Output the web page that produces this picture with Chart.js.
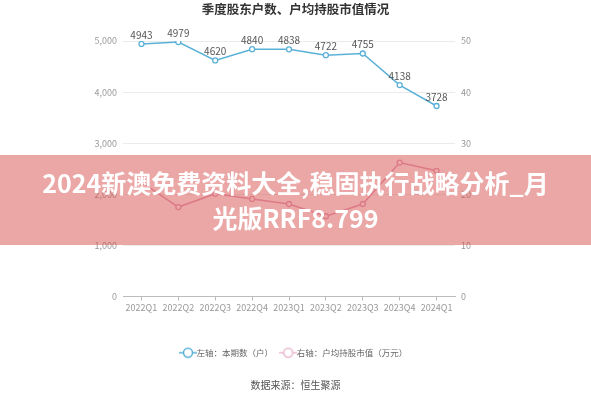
<!DOCTYPE html>
<html>
<head>
<meta charset="utf-8">
<script src="https://cdn.jsdelivr.net/npm/chart.js@4"></script>
<style>
  html, body { margin: 0; padding: 0; background: #fff; }
  #wrap { position: relative; width: 591px; height: 400px; }
  #banner {
    position: absolute; left: 0; top: 155px; width: 591px; height: 90px;
    background: rgba(214, 80, 76, 0.5);
    color: #fff; font-family: "Noto Sans CJK SC", sans-serif; font-weight: bold;
    font-size: 25px; line-height: 35px; text-align: center;
    box-sizing: border-box; padding-top: 10px;
  }
</style>
</head>
<body>
<div id="wrap">
  <canvas id="myChart" width="591" height="400"></canvas>
  <div id="banner">2024新澳免费资料大全,稳固执行战略分析_月<br>光版RRF8.799</div>
</div>
<script>
let quarters = ['2022Q1', '2022Q2', '2022Q3', '2022Q4', '2023Q1', '2023Q2', '2023Q3', '2023Q4', '2024Q1']
let holders = [4943, 4979, 4620, 4840, 4838, 4722, 4755, 4138, 3728]
let avgValue = [22.4, 17.5, 20.1, 19.1, 18.1, 15.7, 18.1, 26.2, 24.6]

let font = '"Noto Sans CJK SC", "Noto Sans", sans-serif'
let blue = '#5ab1d7'
let pink = '#e3a3bf'

// little line + hollow circle used as legend marker
function marker(color) {
    let c = document.createElement('canvas')
    c.width = 18; c.height = 12
    let g = c.getContext('2d')
    g.strokeStyle = color
    g.lineWidth = 1.5
    g.beginPath(); g.moveTo(0, 6); g.lineTo(18, 6); g.stroke()
    g.fillStyle = '#fff'
    g.beginPath(); g.arc(9, 6, 4.5, 0, Math.PI * 2); g.fill(); g.stroke()
    return c
}

// value labels above the first series
let pointLabels = {
    id: 'pointLabels',
    afterDatasetsDraw(chart) {
        let ctx = chart.ctx
        let meta = chart.getDatasetMeta(0)
        ctx.save()
        ctx.font = '10px ' + font
        ctx.fillStyle = '#555'
        ctx.textAlign = 'center'
        ctx.textBaseline = 'bottom'
        meta.data.forEach((pt, i) => {
            ctx.fillText(String(holders[i]), pt.x, pt.y - 4)
        })
        ctx.restore()
    }
}

let ctx = document.getElementById('myChart').getContext('2d')
let chart = new Chart(ctx, {
    type: 'line',
    data: {
        labels: quarters,
        datasets: [{
            label: '左轴：本期数（户）',
            data: holders,
            yAxisID: 'y',
            borderColor: blue,
            backgroundColor: '#fff',
            borderWidth: 1.5,
            pointRadius: 2.5,
            pointBorderWidth: 1.3,
            pointBackgroundColor: '#fff',
            tension: 0
        }, {
            label: '右轴：户均持股市值（万元）',
            data: avgValue,
            yAxisID: 'y1',
            borderColor: pink,
            backgroundColor: '#fff',
            borderWidth: 1.5,
            pointRadius: 2.5,
            pointBorderWidth: 1.3,
            pointBackgroundColor: '#fff',
            tension: 0
        }]
    },
    options: {
        responsive: false,
        animation: false,
        layout: { padding: 0 },
        plugins: {
            title: {
                display: true,
                text: '季度股东户数、户均持股市值情况',
                color: '#333',
                font: { family: font, size: 12.5, weight: 'bold' },
                padding: { top: 2, bottom: 24 }
            },
            subtitle: {
                display: true,
                position: 'bottom',
                text: '数据来源：恒生聚源',
                color: '#555',
                font: { family: font, size: 10 },
                padding: { top: 12, bottom: 9 }
            },
            legend: {
                position: 'bottom',
                labels: {
                    usePointStyle: true,
                    color: '#666',
                    font: { family: font, size: 8.5 },
                    padding: 11,
                    generateLabels(chart) {
                        return chart.data.datasets.map((ds, i) => ({
                            text: ds.label,
                            fontColor: '#666',
                            pointStyle: marker(i === 0 ? blue : '#e8b9cf'),
                            datasetIndex: i,
                            hidden: false,
                            lineWidth: 0
                        }))
                    }
                }
            },
            tooltip: { enabled: false }
        },
        scales: {
            x: {
                offset: true,
                grid: { display: true, drawOnChartArea: false, offset: false, tickLength: 4, color: '#bbb' },
                border: { color: '#bbb' },
                ticks: { color: '#999', font: { family: font, size: 9 }, maxRotation: 0, padding: 2 },
                afterFit(s) { s.height = 41 }
            },
            y: {
                position: 'left',
                min: 0, max: 5000,
                ticks: {
                    stepSize: 1000, color: '#999', padding: 6,
                    font: { family: font, size: 9 },
                    callback: v => v.toLocaleString('en-US')
                },
                grid: { color: '#ebebeb', drawTicks: false },
                border: { display: false },
                afterFit(s) { s.width = 123 }
            },
            y1: {
                position: 'right',
                min: 0, max: 50,
                ticks: { stepSize: 10, color: '#999', padding: 6, font: { family: font, size: 9 } },
                grid: { drawOnChartArea: false, drawTicks: false },
                border: { display: false },
                afterFit(s) { s.width = 136 }
            }
        }
    },
    plugins: [pointLabels]
})
</script>
</body>
</html>
